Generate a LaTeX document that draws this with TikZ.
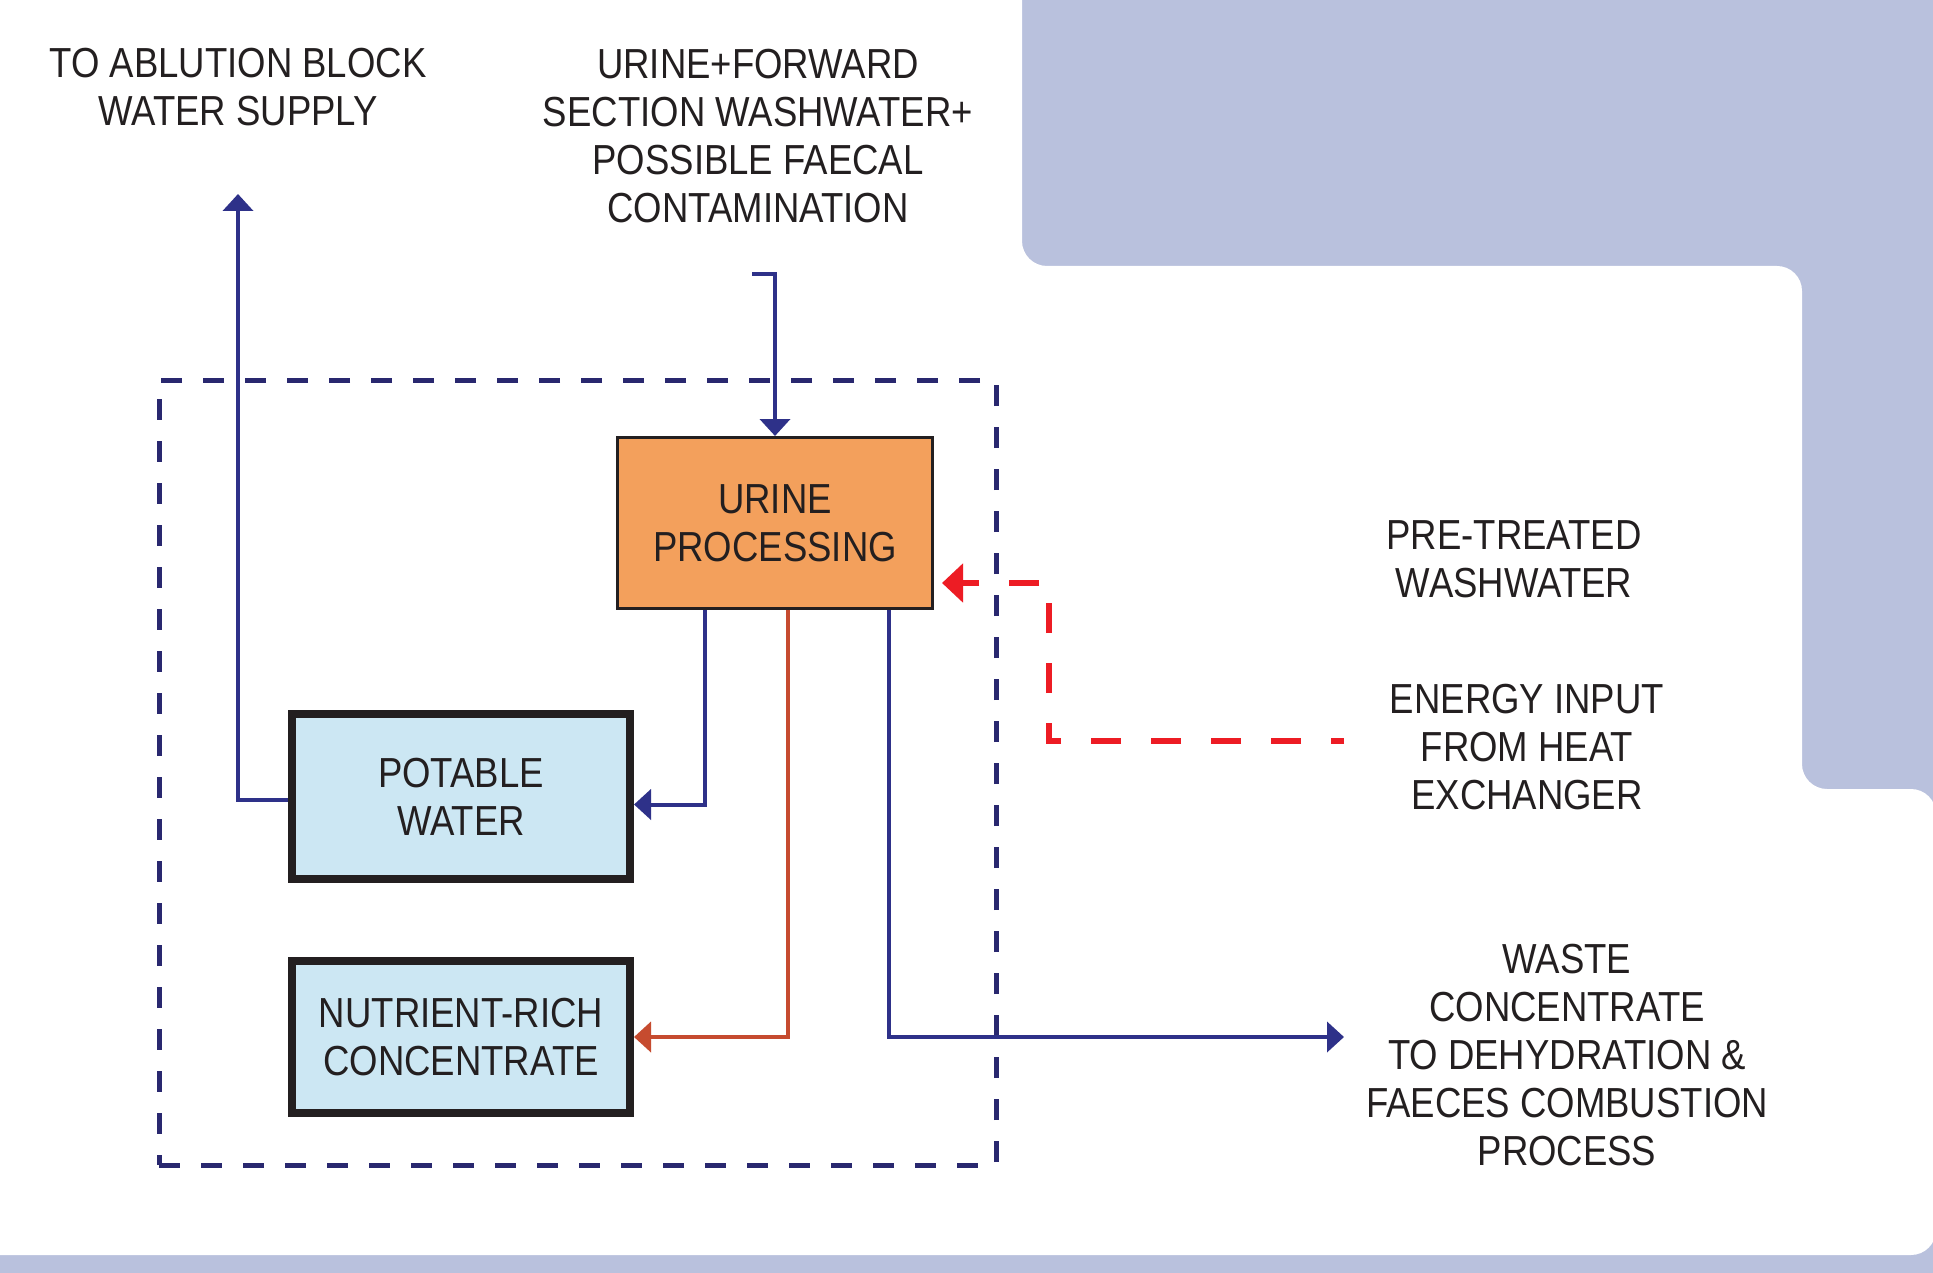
\documentclass[tikz,border=0pt]{standalone}
\usepackage{fontspec}
\setmainfont{Liberation Sans}[FakeStretch=0.87]
\usetikzlibrary{arrows.meta}
\definecolor{bgblue}{HTML}{B9C1DD}
\definecolor{navy}{HTML}{2E3189}
\definecolor{navydash}{HTML}{29286F}
\definecolor{procorange}{HTML}{F3A05C}
\definecolor{tankblue}{HTML}{CCE7F3}
\definecolor{rust}{HTML}{C64B2F}
\definecolor{heatred}{HTML}{ED1C24}
\definecolor{ink}{HTML}{231F20}

\begin{document}
\begin{tikzpicture}[x=1pt,y=-1pt,
  every node/.style={text=ink,font=\fontsize{42}{48}\selectfont,align=center,inner sep=0pt},
  flow/.style={draw=navy,line width=4pt,-{Triangle[width=30pt,length=17pt]}},
  heatflow/.style={draw=heatred,line width=6pt,dash pattern=on 30pt off 30pt,dash phase=17pt,
    -{Triangle[width=38pt,length=21pt]}},
  sysbox/.style={draw=navydash,line width=5pt,dash pattern=on 21pt off 21pt,
    minimum width=837pt,minimum height=785pt},
  process/.style={draw=ink,line width=3pt,fill=procorange,minimum width=315pt,minimum height=171pt},
  tank/.style={draw=ink,line width=8pt,fill=tankblue,minimum width=338pt},
  label/.style={}
]
\useasboundingbox (0,0) rectangle (1933,1273);

% page background: blue frame with a white rounded panel
\fill[bgblue] (0,0) rectangle (1933,1273);
\fill[white,rounded corners=25pt] (-60,-60) -- (1022,-60) -- (1022,266) -- (1802,266)
  -- (1802,789) -- (1936,789) -- (1936,1255) -- (-60,1255) -- cycle;

% system boundary
\node[sysbox] (system) at (577.5,772.5) {};

% units
\node[process] (urine) at (775,523) {URINE\\PROCESSING};
\node[tank,minimum height=165pt] (potable) at (461,796.5) {POTABLE\\WATER};
\node[tank,minimum height=152pt] (nutrient) at (461,1037) {NUTRIENT-RICH\\CONCENTRATE};

% labels
\node[label] (ablLabel) at (238,87) {TO ABLUTION BLOCK\\WATER SUPPLY};
\node[label] (feedLabel) at (758,136) {URINE+FORWARD\\SECTION WASHWATER+\\POSSIBLE FAECAL\\CONTAMINATION};
\node[label] (washLabel) at (1514,559.5) {PRE-TREATED\\WASHWATER};
\node[label] (heatLabel) at (1527,747) {ENERGY INPUT\\FROM HEAT\\EXCHANGER};
\node[label] (wasteLabel) at (1567,1055) {WASTE\\CONCENTRATE\\TO DEHYDRATION \&\\FAECES COMBUSTION\\PROCESS};

% free ends of the connectors
\coordinate (feedIn) at (752,274);
\coordinate (ablOut) at (238,194);
\coordinate (wasteOut) at (1344,1037);
\coordinate (heatIn) at (1344,741);

% flows
\draw[flow] (feedIn) -| (urine.north);
\draw[flow] ([xshift=-70pt]urine.south) |- ([yshift=-8pt]potable.east);
\draw[flow] ([yshift=-3pt]potable.west) -| (ablOut);
\draw[flow,draw=rust] ([xshift=13pt]urine.south) |- (nutrient.east);
\draw[flow] ([xshift=114pt]urine.south) |- (wasteOut);
\draw[heatflow] (heatIn) -| (1049,583) -- ([xshift=8pt,yshift=-60pt]urine.east);
\end{tikzpicture}
\end{document}
